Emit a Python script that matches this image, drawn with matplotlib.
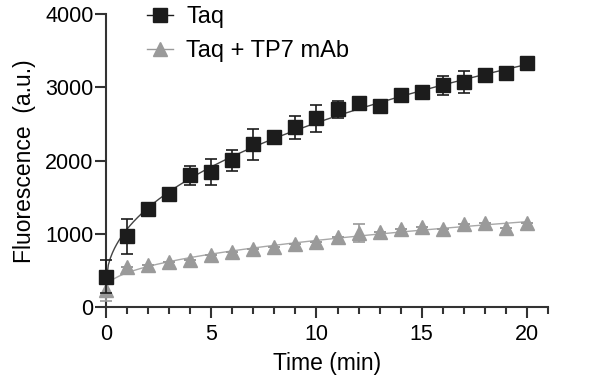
import numpy as np
import matplotlib
matplotlib.use('Agg')
import matplotlib.pyplot as plt
from matplotlib.ticker import MultipleLocator

plt.rcParams['font.family'] = ['Liberation Sans', 'DejaVu Sans']

# time points (min)
time = list(range(21))

# Taq alone
taq = [415, 970, 1337, 1550, 1800, 1842, 2005, 2224, 2319, 2456, 2578,
       2701, 2783, 2742, 2892, 2933, 3029, 3070, 3165, 3192, 3330]
taq_err = [225, 240, 0, 0, 125, 180, 145, 215, 0, 160, 185,
           120, 0, 0, 0, 0, 130, 150, 0, 0, 0]

# Taq + TP7 mAb
tp7 = [232, 546, 573, 614, 641, 709, 750, 791, 819, 860, 887,
       955, 1010, 1023, 1064, 1091, 1064, 1132, 1146, 1078, 1146]
tp7_err = [150, 0, 0, 0, 0, 0, 0, 0, 0, 0, 0,
           0, 120, 0, 0, 0, 0, 0, 0, 0, 0]


def fit_curve(x, y):
    # least squares y = a + b*sqrt(x) + c*x
    x = np.asarray(x, float)
    A = np.column_stack([np.ones_like(x), np.sqrt(x), x])
    coef = np.linalg.lstsq(A, np.asarray(y, float), rcond=None)[0]
    xs = np.linspace(0, x.max(), 200)
    return xs, coef[0] + coef[1]*np.sqrt(xs) + coef[2]*xs


fig = plt.figure(figsize=(6, 3.84), dpi=100)
ax = fig.add_axes([0.177, 0.2, 0.736, 0.763])

black = '#1c1c1c'
grey = '#9a9a9a'

xs, ys = fit_curve(time, tp7)
ax.plot(xs, ys, color='#a8a8a8', lw=1.0, zorder=2)
ax.errorbar(time, tp7, yerr=tp7_err, fmt='none', ecolor=grey, elinewidth=1.2,
            capsize=4.5, capthick=1.2, zorder=3, clip_on=False)
ax.plot(time, tp7, '^', color=grey, ms=9.5, mec=grey, zorder=4, clip_on=False)

xs, ys = fit_curve(time, taq)
ax.plot(xs, ys, color='#444444', lw=1.0, zorder=5)
ax.errorbar(time, taq, yerr=taq_err, fmt='none', ecolor=black, elinewidth=1.2,
            capsize=4.5, capthick=1.2, zorder=6, clip_on=False)
ax.plot(time, taq, 's', color=black, ms=9.5, mec=black, zorder=7, clip_on=False)

# legend proxies
h1, = ax.plot([], [], 's-', color=black, ms=9.5, lw=1.0)
h2, = ax.plot([], [], '^-', color=grey, ms=9.5, lw=1.0)
leg = ax.legend([h1, h2], ['Taq', 'Taq + TP7 mAb'], loc='upper left',
                bbox_to_anchor=(0.045, 1.1), frameon=False, fontsize=17,
                handlelength=1.1, handletextpad=0.55, labelspacing=0.5)

ax.set_xlim(0, 21)
ax.set_ylim(0, 4000)
ax.xaxis.set_major_locator(MultipleLocator(5))
ax.xaxis.set_minor_locator(MultipleLocator(1))
ax.yaxis.set_major_locator(MultipleLocator(1000))

for s in ['top', 'right']:
    ax.spines[s].set_visible(False)
for s in ['left', 'bottom']:
    ax.spines[s].set_color('#333333')
    ax.spines[s].set_linewidth(1.5)

ax.tick_params(axis='both', which='major', length=8, width=1.5,
               color='#333333', labelsize=15.5, pad=4)
ax.tick_params(axis='x', which='minor', length=5, width=1.5, color='#333333')
ax.tick_params(axis='y', which='major', pad=1)

ax.set_xlabel('Time (min)', fontsize=16.5, labelpad=5)
ax.set_ylabel('Fluorescence  (a.u.)', fontsize=16.5, labelpad=7)

fig.savefig('out.png', dpi=100)
